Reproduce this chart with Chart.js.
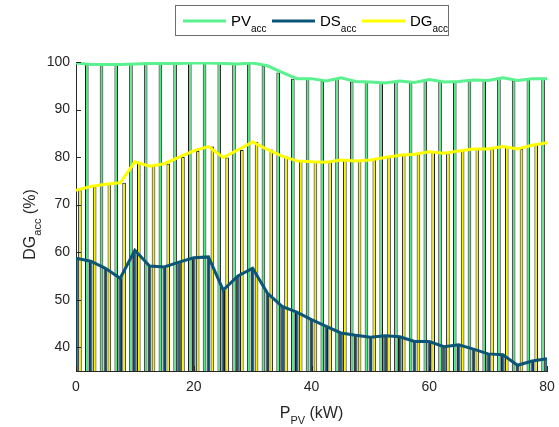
<!DOCTYPE html>
<html>
<head>
<meta charset="utf-8">
<script src="https://cdn.jsdelivr.net/npm/chart.js@4.4.1/dist/chart.umd.min.js"></script>
<style>
html,body{margin:0;padding:0;background:#fff;}
#wrap{width:559px;height:427px;}
</style>
</head>
<body>
<div id="wrap"><canvas id="c" width="559" height="427"></canvas></div>
<script>
const pPV = [0,2.5,5,7.5,10,12.5,15,17.5,20,22.5,25,27.5,30,32.5,35,37.5,40,42.5,45,47.5,50,52.5,55,57.5,60,62.5,65,67.5,70,72.5,75,77.5,80];
const pvAcc = [99.8,99.5,99.5,99.5,99.6,99.7,99.7,99.7,99.8,99.8,99.7,99.6,99.8,99.2,97.8,96.5,96.5,96.0,96.7,95.9,95.8,95.6,96.0,95.7,96.3,95.8,95.9,96.2,96.1,96.7,96.1,96.5,96.5];
const dsAcc = [58.7,58.1,56.6,54.5,60.4,57.1,56.9,57.9,58.8,59.0,52.0,55.0,56.6,51.4,48.6,47.4,45.8,44.4,43.0,42.5,42.1,42.4,42.2,41.2,41.2,40.1,40.5,39.6,38.6,38.4,36.2,37.1,37.6];
const dgAcc = [73.0,73.8,74.3,74.6,79.0,78.1,78.6,80.0,81.3,82.2,79.9,81.5,83.2,81.6,80.2,79.2,79.0,78.9,79.4,79.2,79.4,79.9,80.4,80.6,81.1,80.8,81.3,81.7,81.7,82.2,81.7,82.5,83.0];
const xTicks = [0,20,40,60,80];
const yTicks = [40,50,60,70,80,90,100];

const cPV = '#5af28e', cDS = '#0b5577', cDG = '#ffff00';
const bPV = '#50ea84', bDS = '#0a4d6c', bDG = '#f4f400';
const axisCol = '#262626';
const FONT = '"Liberation Sans", Arial, Helvetica, sans-serif';

function pts(vals){ return pPV.map((x,i)=>({x:x,y:vals[i]})); }

function barDs(label, vals, col){
  return {type:'bar', label:label, data:pts(vals), backgroundColor:col, borderColor:'rgba(0,0,0,0.9)',
    borderWidth:1, order:2, categoryPercentage:0.8, barPercentage:0.92, borderSkipped:'bottom'};
}
function lineDs(label, vals, col){
  return {type:'line', label:label, data:pts(vals), borderColor:col, backgroundColor:col,
    borderWidth:3, pointRadius:0, tension:0, order:0, fill:false};
}

function drawSub(ctx, main, sub, rest, x, y, size, subSize, align){
  ctx.font = size+'px '+FONT;
  const w1 = ctx.measureText(main).width;
  ctx.font = subSize+'px '+FONT;
  const w2 = ctx.measureText(sub).width;
  ctx.font = size+'px '+FONT;
  const w3 = rest ? ctx.measureText(rest).width : 0;
  const total = w1+w2+w3;
  let sx = align==='center' ? x-total/2 : x;
  ctx.textAlign='left'; ctx.textBaseline='alphabetic';
  ctx.fillText(main, sx, y);
  ctx.font = subSize+'px '+FONT;
  ctx.fillText(sub, sx+w1, y+Math.round(size*0.38));
  if(rest){ ctx.font = size+'px '+FONT; ctx.fillText(rest, sx+w1+w2, y); }
}

const decor = {
  id:'decor',
  afterDraw(chart){
    const ctx = chart.ctx, a = chart.chartArea;
    const xs = chart.scales.x, ys = chart.scales.y;
    ctx.save();
    ctx.strokeStyle = axisCol; ctx.lineWidth = 1;
    ctx.beginPath();
    yTicks.forEach(v=>{ const py=Math.round(ys.getPixelForValue(v))+0.5; ctx.moveTo(a.left,py); ctx.lineTo(a.left+5,py); });
    xTicks.forEach(v=>{ const px=Math.round(xs.getPixelForValue(v))+0.5; ctx.moveTo(px,a.bottom); ctx.lineTo(px,a.bottom-5); });
    ctx.stroke();
    ctx.fillStyle = axisCol;
    drawSub(ctx,'P','PV',' (kW)', (a.left+a.right)/2, 418, 16, 11, 'center');
    ctx.save();
    ctx.translate(35, (a.top+a.bottom)/2+8);
    ctx.rotate(-Math.PI/2);
    drawSub(ctx,'DG','acc',' (%)', 0, 0, 16, 11, 'center');
    ctx.restore();
    ctx.fillStyle = '#fff';
    ctx.fillRect(175.5,5.5,273,30);
    ctx.strokeStyle = '#6e6e6e'; ctx.lineWidth = 1;
    ctx.strokeRect(175.5,5.5,273,30);
    const items = [['PV',cPV,183],['DS',cDS,272],['DG',cDG,362]];
    items.forEach(it=>{
      ctx.strokeStyle = it[1]; ctx.lineWidth = 3;
      ctx.beginPath(); ctx.moveTo(it[2],21); ctx.lineTo(it[2]+43,21); ctx.stroke();
      ctx.fillStyle = '#000';
      drawSub(ctx,it[0],'acc','', it[2]+48, 26, 15, 10, 'left');
    });
    ctx.restore();
  }
};

new Chart(document.getElementById('c'), {
  type:'bar',
  data:{
    datasets:[
      lineDs('PV', pvAcc, cPV),
      lineDs('DS', dsAcc, cDS),
      lineDs('DG', dgAcc, cDG),
      barDs('PV bar', pvAcc, bPV),
      barDs('DS bar', dsAcc, bDS),
      barDs('DG bar', dgAcc, bDG)
    ]
  },
  options:{
    responsive:false, animation:false,
    layout:{padding:{left:0,right:12,top:62,bottom:0}},
    plugins:{legend:{display:false}, tooltip:{enabled:false}},
    scales:{
      x:{type:'linear', min:0, max:80, offset:false,
        grid:{display:false, drawTicks:false},
        border:{display:true, color:axisCol, width:1},
        afterBuildTicks(s){ s.ticks = xTicks.map(v=>({value:v})); },
        ticks:{color:axisCol, font:{family:FONT, size:14}, padding:8, maxRotation:0},
        afterFit(s){ s.height = 56; s.paddingLeft = 0; s.paddingRight = 0; }
      },
      y:{min:35, max:100,
        grid:{display:false, drawTicks:false},
        border:{display:true, color:axisCol, width:1},
        afterBuildTicks(s){ s.ticks = yTicks.map(v=>({value:v})); },
        ticks:{color:axisCol, font:{family:FONT, size:14}, padding:6},
        afterFit(s){ s.width = 76; s.paddingTop = 0; s.paddingBottom = 0; }
      }
    }
  },
  plugins:[decor]
});
</script>
</body>
</html>
